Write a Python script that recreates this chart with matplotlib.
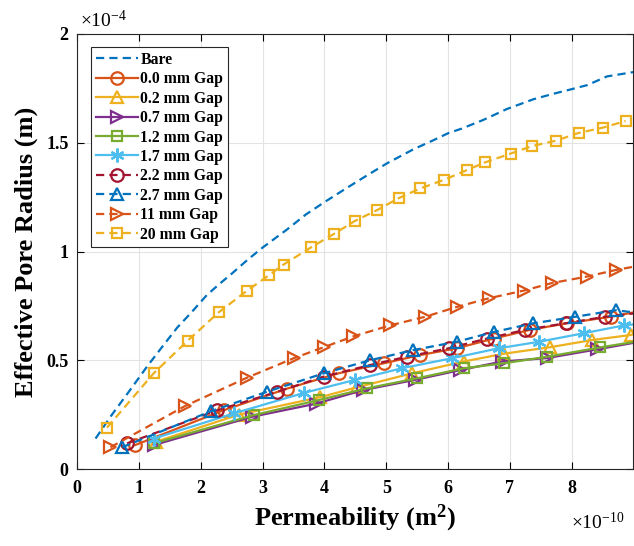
import matplotlib
matplotlib.use("Agg")
import matplotlib.pyplot as plt
from matplotlib.ticker import FuncFormatter

# ---- data (x in 1e-10 m^2, y in 1e-4 m) ----
bare_x = [0.30, 0.54, 0.85, 1.13, 1.40, 1.62, 1.85, 2.10, 2.30, 2.51, 2.75, 3.01, 3.39, 3.70, 3.99,
          4.35, 4.69, 5.01, 5.44, 5.75, 6.01, 6.22, 6.57, 6.95, 7.38, 7.70, 7.98, 8.25, 8.57, 9.0]
bare_y = [0.14, 0.24, 0.36, 0.47, 0.57, 0.65, 0.72, 0.80, 0.85, 0.90, 0.96, 1.02, 1.10, 1.17, 1.225,
          1.29, 1.35, 1.405, 1.47, 1.51, 1.545, 1.565, 1.605, 1.655, 1.70, 1.725, 1.745, 1.765, 1.805, 1.825]

g00_x = [0.94, 2.37, 3.40, 4.23, 4.96, 5.55, 6.14, 6.74, 7.33, 7.92, 8.63, 9.0]
g00_y = [0.11, 0.27, 0.37, 0.44, 0.486, 0.524, 0.555, 0.60, 0.64, 0.67, 0.70, 0.72]

g02_x = [1.27, 2.62, 3.93, 4.52, 5.42, 6.25, 6.90, 7.65, 8.33, 8.95, 9.0]
g02_y = [0.125, 0.25, 0.33, 0.375, 0.44, 0.494, 0.53, 0.56, 0.593, 0.616, 0.62]

g07_x = [1.24, 2.83, 3.86, 4.63, 5.47, 6.20, 6.87, 7.60, 8.41, 9.0]
g07_y = [0.11, 0.24, 0.30, 0.363, 0.41, 0.455, 0.494, 0.51, 0.55, 0.58]

g12_x = [1.24, 2.86, 3.91, 4.69, 5.50, 6.25, 6.90, 7.60, 8.46, 9.0]
g12_y = [0.118, 0.248, 0.317, 0.371, 0.417, 0.463, 0.486, 0.516, 0.559, 0.584]

g17_x = [1.24, 2.54, 3.67, 4.50, 5.25, 6.06, 6.82, 7.47, 8.19, 8.84, 9.0]
g17_y = [0.14, 0.256, 0.35, 0.41, 0.463, 0.509, 0.555, 0.585, 0.624, 0.66, 0.665]

g22_x = [0.81, 2.27, 3.24, 3.99, 4.74, 5.33, 6.01, 6.63, 7.25, 7.90, 8.54, 9.0]
g22_y = [0.118, 0.27, 0.355, 0.425, 0.478, 0.516, 0.555, 0.60, 0.64, 0.67, 0.70, 0.715]

g27_x = [0.73, 2.16, 3.07, 3.99, 4.74, 5.44, 6.14, 6.74, 7.38, 8.06, 8.71, 9.0]
g27_y = [0.10, 0.265, 0.355, 0.44, 0.50, 0.547, 0.585, 0.63, 0.67, 0.70, 0.73, 0.72]

g11_x = [0.54, 1.75, 2.75, 3.51, 3.99, 4.47, 5.06, 5.63, 6.14, 6.66, 7.22, 7.68, 8.25, 8.71, 9.0]
g11_y = [0.10, 0.29, 0.42, 0.51, 0.56, 0.61, 0.66, 0.70, 0.745, 0.785, 0.82, 0.855, 0.885, 0.915, 0.93]

g20_x = [0.485, 1.24, 1.79, 2.29, 2.75, 3.10, 3.34, 3.79, 4.15, 4.49, 4.85, 5.20, 5.55, 5.94,
         6.31, 6.60, 7.01, 7.36, 7.75, 8.11, 8.51, 8.87]
g20_y = [0.19, 0.44, 0.59, 0.72, 0.82, 0.89, 0.94, 1.02, 1.08, 1.14, 1.19, 1.245, 1.29, 1.33,
         1.375, 1.41, 1.45, 1.485, 1.51, 1.545, 1.57, 1.60]

x_ticks = [0, 1, 2, 3, 4, 5, 6, 7, 8]
y_ticks = [0, 0.5, 1, 1.5, 2]

XS, YS = 1e-10, 1e-4

plt.rcParams['font.family'] = ['Liberation Serif', 'DejaVu Serif']
plt.rcParams['mathtext.fontset'] = 'custom'
plt.rcParams['mathtext.rm'] = 'Liberation Serif'
plt.rcParams['mathtext.it'] = 'Liberation Serif:italic'
plt.rcParams['mathtext.bf'] = 'Liberation Serif:bold'

C_BLUE = '#0072BD'
C_ORANGE = '#D95319'
C_YELLOW = '#EDB120'
C_PURPLE = '#7E2F8E'
C_GREEN = '#77AC30'
C_LBLUE = '#4DBEEE'
C_RED = '#A2142F'

fig = plt.figure(figsize=(6.34, 5.46), dpi=100)
ax = fig.add_axes([77/634, 1-469/546, (633-77)/634, (469-34)/546])

def sc(v, s):
    return [a * s for a in v]

lw = 1.6
ms = 9
mew = 1.6
ASTER = (6, 2, 0)
series = [
    (bare_x, bare_y, 'Bare', C_BLUE, '--', None),
    (g00_x, g00_y, '0.0 mm Gap', C_ORANGE, '-', 'o'),
    (g02_x, g02_y, '0.2 mm Gap', C_YELLOW, '-', '^'),
    (g07_x, g07_y, '0.7 mm Gap', C_PURPLE, '-', '>'),
    (g12_x, g12_y, '1.2 mm Gap', C_GREEN, '-', 's'),
    (g17_x, g17_y, '1.7 mm Gap', C_LBLUE, '-', ASTER),
    (g22_x, g22_y, '2.2 mm Gap', C_RED, '--', 'o'),
    (g27_x, g27_y, '2.7 mm Gap', C_BLUE, '--', '^'),
    (g11_x, g11_y, '11 mm Gap', C_ORANGE, '--', '>'),
    (g20_x, g20_y, '20 mm Gap', C_YELLOW, '--', 's'),
]
for xs, ys, lab, col, ls, mk in series:
    n = len(xs)
    mev = [i for i in range(n) if xs[i] < 8.999] if mk is not None else None
    msz = ms
    if mk == 's':
        msz = 7
    if mk == ASTER:
        msz = 10
    ax.plot(sc(xs, XS), sc(ys, YS), linestyle=ls, color=col, lw=lw,
            marker=mk, markersize=msz, markerfacecolor='none', markeredgecolor=col,
            markeredgewidth=mew, markevery=mev, label=lab,
            dashes=(3.7, 2.3) if ls == '--' else (None, None))

ax.set_xlim(0, 8.99 * XS)
ax.set_ylim(0, 2 * YS)
ax.set_xticks(sc(x_ticks, XS))
ax.set_yticks(sc(y_ticks, YS))
ax.xaxis.set_major_formatter(FuncFormatter(lambda v, p: '%g' % round(v / XS, 6)))
ax.yaxis.set_major_formatter(FuncFormatter(lambda v, p: '%g' % round(v / YS, 6)))
ax.tick_params(direction='in', top=True, right=True, length=5, width=0.8, labelsize=13)
ax.tick_params(axis='x', pad=8)
ax.tick_params(axis='y', pad=6)
for lab in ax.get_xticklabels() + ax.get_yticklabels():
    lab.set_fontweight('bold')
ax.grid(True, color='#e3e3e3', lw=0.8)
ax.set_axisbelow(True)
for s in ax.spines.values():
    s.set_linewidth(0.8)
    s.set_color('#262626')

ax.set_xlabel(r'Permeability (m$^\mathbf{2}$)', fontsize=19, fontweight='bold', labelpad=4)
ax.set_ylabel('Effective Pore Radius (m)', fontsize=19, fontweight='bold', labelpad=6)

fig.text(80/634, 1-20/546, r'$\times\mathregular{10^{-4}}$', fontsize=14, va='center', ha='left')
fig.text(571/634, 1-522/546, r'$\times\mathregular{10^{-10}}$', fontsize=14, va='center', ha='left')

leg = ax.legend(loc='upper left', bbox_to_anchor=((91-77)/556, (469-47)/435), prop={'weight': 'bold', 'size': 11.3},
                frameon=True, fancybox=False, edgecolor='#262626', framealpha=1,
                handlelength=2.7, handletextpad=0.15, labelspacing=0.22, borderpad=0.3, borderaxespad=0)
leg.get_frame().set_linewidth(0.8)

fig.savefig('out.png', dpi=100)
